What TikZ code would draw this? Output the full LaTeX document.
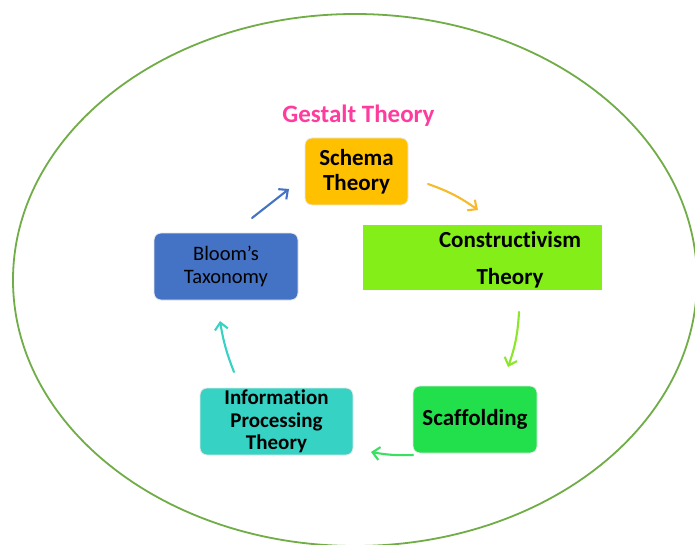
\documentclass[tikz,border=0pt]{standalone}
\usepackage{fontspec}
\setmainfont{Carlito}[Ligatures={NoCommon}]
\usetikzlibrary{arrows.meta}
\definecolor{schemac}{HTML}{FFC000}
\definecolor{consc}{HTML}{84EE18}
\definecolor{bloomc}{HTML}{4472C4}
\definecolor{infoc}{HTML}{36D3C4}
\definecolor{scafc}{HTML}{22DF4C}
\definecolor{ringc}{HTML}{70AD47}
\definecolor{gestc}{HTML}{FF3C9E}
\definecolor{arrorange}{HTML}{F6BA2A}
\definecolor{arrlime}{HTML}{8CE62C}
\definecolor{arrgreen}{HTML}{3BE060}
\definecolor{haloc}{HTML}{E8E8E8}
\tikzset{
  box/.style={rounded corners=7pt, inner sep=0pt, align=center, draw=haloc, line width=0.8pt, font=\fontsize{23}{25}\selectfont\bfseries, text=black},
  flow/.style={line width=2.1pt, line cap=round, -{Straight Barb[length=7pt,width=13pt,line width=2.1pt]}},
}
\begin{document}
\begin{tikzpicture}[x=1pt,y=-1pt]
\useasboundingbox (0,0) rectangle (695,545);
\fill[white] (0,0) rectangle (695,545);
\draw[ringc, line width=1.8pt] (355,280) ellipse [x radius=342, y radius=266];

\node[font=\fontsize{25}{28}\selectfont\bfseries, text=gestc] (gest) at (358.5,116) {Gestalt Theory};

\node[box, fill=schemac, minimum width=103pt, minimum height=67pt] (schema) at (356.5,171.5) {Schema\\Theory};
\node[box, draw=none, fill=consc, rounded corners=0pt, minimum width=239pt, minimum height=65pt] (cons) at (482.5,257.5) {};
\node[font=\fontsize{23}{25}\selectfont\bfseries, align=center] (consT) at (510,260) {Constructivism\\[12pt]Theory};
\node[box, fill=bloomc, font=\fontsize{20.5}{23}\selectfont, minimum width=144pt, minimum height=67pt] (bloom) at (226,266.5) {Bloom{\char"27}s\\Taxonomy};
\node[box, fill=infoc, font=\fontsize{21}{22.5}\selectfont\bfseries, minimum width=153pt, minimum height=67pt] (info) at (276.5,421.5) {Information\\Processing\\Theory};
\node[box, fill=scafc, minimum width=124pt, minimum height=67pt] (scaf) at (475,419.5) {Scaffolding};

\coordinate (b1) at (252,218); \coordinate (b2) at (289,189);
\coordinate (o1) at (428,184); \coordinate (o2) at (478,210);
\coordinate (l1) at (519,312); \coordinate (l2) at (508,367);
\coordinate (g1) at (413,455); \coordinate (g2) at (371,452);
\coordinate (t1) at (234,372); \coordinate (t2) at (220,321);

\draw[flow, bloomc] (b1) -- (b2);
\draw[flow, arrorange] (o1) to[bend left=8] (o2);
\draw[flow, arrlime] (l1) to[bend left=8] (l2);
\draw[flow, arrgreen] (g1) to[bend left=6] (g2);
\draw[flow, infoc] (t1) to[bend left=6] (t2);
\end{tikzpicture}
\end{document}
